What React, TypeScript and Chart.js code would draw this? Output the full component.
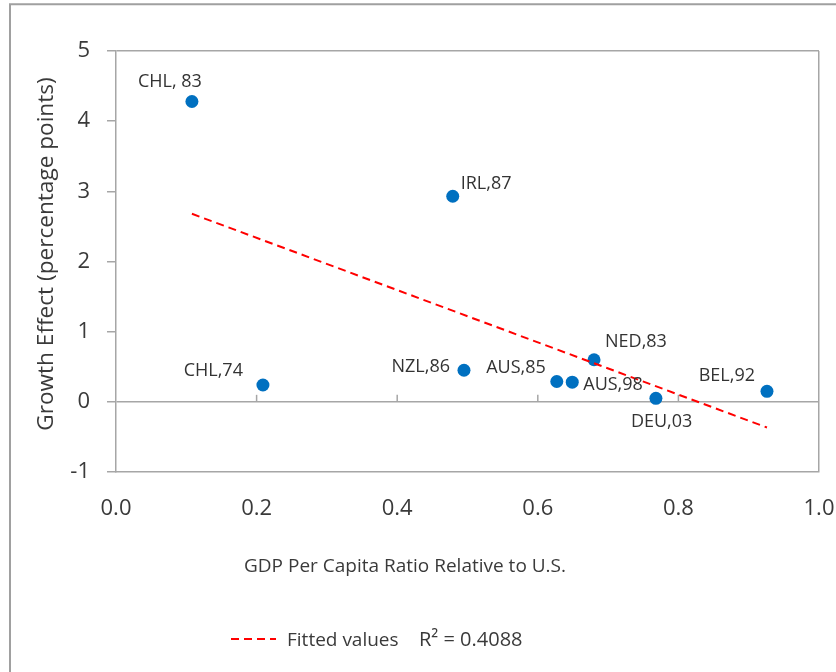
import React, { useEffect, useRef } from 'react';
import { Chart, registerables } from 'chart.js';

Chart.register(...registerables);

// ---------- data ----------
const countryLabels = ['CHL, 83', 'CHL,74', 'IRL,87', 'NZL,86', 'AUS,85', 'AUS,98', 'NED,83', 'DEU,03', 'BEL,92'];
const gdpRatio = [0.108, 0.209, 0.479, 0.495, 0.627, 0.649, 0.680, 0.768, 0.926];
const growthEffect = [4.28, 0.24, 2.93, 0.45, 0.29, 0.28, 0.60, 0.05, 0.15];
const fittedX = [0.108, 0.926];
const fittedY = [2.68, -0.366];
const xTitle = 'GDP Per Capita Ratio Relative to U.S.';
const yTitle = 'Growth Effect (percentage points)';
const legendLabel = 'Fitted values';
const rSquaredText = 'R\u00B2 = 0.4088';

// ---------- label placement (style, not data): [dx, dy, align] ----------
const labelPlacement: [number, number, CanvasTextAlign][] = [
  [-22, -20, 'center'],
  [-20, -14, 'right'],
  [8, -12, 'left'],
  [-14, -3, 'right'],
  [-11, -14, 'right'],
  [11, 3, 'left'],
  [11, -18, 'left'],
  [-25, 24, 'left'],
  [-12, -15, 'right'],
];

const FONT = '"Open Sans", "Noto Sans", sans-serif';
const AXIS_GRAY = '#A6A6A6';
const TEXT = '#3A3A3A';

const decorPlugin = {
  id: 'decor',
  beforeDraw(chart: any) {
    const ctx = chart.ctx;
    ctx.save();
    ctx.strokeStyle = '#A0A0A0';
    ctx.lineWidth = 2;
    ctx.beginPath();
    ctx.moveTo(10, 672);
    ctx.lineTo(10, 4.3);
    ctx.lineTo(836, 4.3);
    ctx.stroke();
    ctx.restore();
  },
  beforeDatasetsDraw(chart: any) {
    const ctx = chart.ctx;
    const xs = chart.scales.x;
    const ys = chart.scales.y;
    const y0 = ys.getPixelForValue(0);
    ctx.save();
    ctx.strokeStyle = AXIS_GRAY;
    ctx.lineWidth = 1.5;
    xs.ticks.forEach((t: any) => {
      if (t.value <= 0 || t.value >= 1) return;
      const px = xs.getPixelForValue(t.value);
      ctx.beginPath();
      ctx.moveTo(px, y0);
      ctx.lineTo(px, y0 - 7);
      ctx.stroke();
    });
    ctx.restore();
  },
  afterDraw(chart: any) {
    const ctx = chart.ctx;
    const xs = chart.scales.x;
    const ys = chart.scales.y;
    const area = chart.chartArea;
    ctx.save();
    // data labels
    ctx.fillStyle = '#333333';
    ctx.font = `18px ${FONT}`;
    ctx.textBaseline = 'middle';
    countryLabels.forEach((lab, i) => {
      const px = xs.getPixelForValue(gdpRatio[i]);
      const py = ys.getPixelForValue(growthEffect[i]);
      const [dx, dy, al] = labelPlacement[i];
      ctx.textAlign = al;
      ctx.fillText(lab, px + dx, py + dy);
    });
    // axis titles
    ctx.fillStyle = TEXT;
    ctx.textBaseline = 'alphabetic';
    ctx.textAlign = 'center';
    ctx.font = `19px ${FONT}`;
    ctx.fillText(xTitle, area.left + 289, area.bottom + 100);
    ctx.save();
    ctx.font = `22.6px ${FONT}`;
    ctx.translate(53, (area.top + area.bottom) / 2 - 7.5);
    ctx.rotate(-Math.PI / 2);
    ctx.fillText(yTitle, 0, 0);
    ctx.restore();
    // legend
    const ly = area.bottom + 167;
    ctx.strokeStyle = '#FF0000';
    ctx.lineWidth = 2;
    ctx.setLineDash([8, 5]);
    ctx.beginPath();
    ctx.moveTo(area.left + 115, ly);
    ctx.lineTo(area.left + 160, ly);
    ctx.stroke();
    ctx.setLineDash([]);
    ctx.textAlign = 'left';
    ctx.font = `19px ${FONT}`;
    ctx.fillText(legendLabel, area.left + 171, ly + 7);
    ctx.font = `20px ${FONT}`;
    ctx.fillText(rSquaredText, area.left + 303, ly + 7);
    ctx.restore();
  },
};

export default function App() {
  const ref = useRef<HTMLCanvasElement | null>(null);
  useEffect(() => {
    if (!ref.current) return;
    const points = gdpRatio.map((x, i) => ({ x, y: growthEffect[i] }));
    const fit = fittedX.map((x, i) => ({ x, y: fittedY[i] }));
    const chart = new Chart(ref.current, {
      type: 'scatter',
      data: {
        datasets: [
          {
            label: legendLabel,
            type: 'line',
            data: fit,
            borderColor: '#FF0000',
            borderWidth: 2,
            borderDash: [8, 5],
            pointRadius: 0,
            fill: false,
            order: 0,
          } as any,
          {
            label: 'Countries',
            data: points,
            backgroundColor: '#0070C0',
            borderColor: '#0070C0',
            borderWidth: 0,
            pointRadius: 6.5,
            pointHoverRadius: 6.5,
            order: 1,
          },
        ],
      },
      options: {
        animation: false,
        responsive: false,
        events: [],
        layout: { padding: { top: 51, right: 17, left: 0, bottom: 0 } },
        plugins: { legend: { display: false }, tooltip: { enabled: false }, title: { display: false } },
        scales: {
          x: {
            type: 'linear',
            min: 0,
            max: 1,
            afterFit: (s: any) => {
              s.height = 200;
              s.paddingLeft = 0;
              s.paddingRight = 0;
            },
            ticks: {
              stepSize: 0.2,
              callback: (v: any) => Number(v).toFixed(1),
              font: { family: FONT, size: 22 },
              color: TEXT,
              padding: 24,
              maxRotation: 0,
            },
            grid: {
              drawTicks: false,
              lineWidth: 1.5,
              color: (c: any) => (c.tick && Math.abs(c.tick.value - 1) < 1e-9 ? AXIS_GRAY : 'rgba(0,0,0,0)'),
            },
            border: { display: true, color: AXIS_GRAY, width: 1.5 },
          },
          y: {
            type: 'linear',
            min: -1,
            max: 5,
            afterFit: (s: any) => {
              s.width = 116;
              s.paddingTop = 0;
              s.paddingBottom = 0;
            },
            ticks: {
              stepSize: 1,
              font: { family: FONT, size: 22 },
              color: TEXT,
              padding: 17,
            },
            grid: {
              drawTicks: true,
              tickLength: 9,
              tickColor: AXIS_GRAY,
              lineWidth: 1.5,
              color: (c: any) => (c.tick && (c.tick.value === 0 || c.tick.value === 5) ? AXIS_GRAY : 'rgba(0,0,0,0)'),
            },
            border: { display: true, color: AXIS_GRAY, width: 1.5 },
          },
        },
      },
      plugins: [decorPlugin],
    });
    return () => chart.destroy();
  }, []);
  return (
    <div style={{ position: 'fixed', left: 0, top: 0, width: 836, height: 672, background: '#fff' }}>
      <canvas ref={ref} width={836} height={672} style={{ display: 'block' }} />
    </div>
  );
}
